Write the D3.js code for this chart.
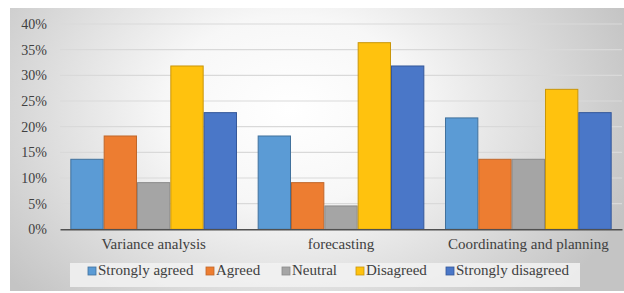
<!DOCTYPE html>
<html><head><meta charset="utf-8">
<script src="https://cdn.jsdelivr.net/npm/d3@7"></script>
<style>html,body{margin:0;padding:0;background:#fff;}svg{display:block;}</style>
</head><body>
<svg id="c" width="624" height="293"></svg>
<script>
const categories = ["Variance analysis", "forecasting", "Coordinating and planning"];
const seriesNames = ["Strongly agreed", "Agreed", "Neutral", "Disagreed", "Strongly disagreed"];
const stronglyAgreed = [0.1364, 0.1818, 0.217];
const agreed = [0.1818, 0.0909, 0.1364];
const neutral = [0.0909, 0.0455, 0.1364];
const disagreed = [0.3182, 0.3636, 0.2727];
const stronglyDisagreed = [0.2273, 0.3182, 0.2273];
const yTicks = [0, 0.05, 0.10, 0.15, 0.20, 0.25, 0.30, 0.35, 0.40];

(function(){
const series = [stronglyAgreed, agreed, neutral, disagreed, stronglyDisagreed];
const fills = ["#5B9BD5", "#ED7D31", "#A5A5A5", "#FFC20E", "#4A77C8"];
const strokes = ["#41719C", "#C0672A", "#8A8A8A", "#C9960A", "#35589A"];
const ff = "\"Liberation Serif\"";

const svg = d3.select("#c");
const defs = svg.append("defs");
const rg = defs.append("radialGradient").attr("id", "bg")
  .attr("gradientUnits", "userSpaceOnUse")
  .attr("cx", 290).attr("cy", 110).attr("r", 360)
  .attr("gradientTransform", "translate(290,110) scale(1,0.75) translate(-290,-110)");
rg.append("stop").attr("offset", "0").attr("stop-color", "#ffffff");
rg.append("stop").attr("offset", "0.35").attr("stop-color", "#f7f7f7");
rg.append("stop").attr("offset", "1").attr("stop-color", "#c4c4c4");

svg.append("rect").attr("x", 10).attr("y", 8).attr("width", 614).attr("height", 283).attr("fill", "url(#bg)");

const pl = 60, pr = 622, pt = 24, pb = 229.3;
const x0 = d3.scaleBand().domain(categories).range([pl, pr]).paddingInner(0).paddingOuter(0);
const x1 = d3.scaleBand().domain(d3.range(seriesNames.length)).range([0, x0.bandwidth()]).paddingInner(0).paddingOuter(0.31);
const y = d3.scaleLinear().domain([0, 0.40]).range([pb, pt]);

svg.append("g").selectAll("line").data(yTicks.filter(d => d > 0)).join("line")
  .attr("x1", pl).attr("x2", pr)
  .attr("y1", d => y(d)).attr("y2", d => y(d))
  .attr("stroke", "#d9d9d9").attr("stroke-width", 1.2);

const yAxis = d3.axisLeft(y).tickValues(yTicks).tickFormat(d3.format(".0%")).tickSize(0).tickPadding(0);
const yg = svg.append("g").attr("transform", `translate(47,0)`).call(yAxis);
yg.attr("font-family", ff).attr("font-size", 14);
yg.select(".domain").remove();
yg.selectAll("text").style("font-family", ff).style("font-size", "14px").attr("fill", "#404040");

const groups = svg.append("g").selectAll("g").data(categories).join("g")
  .attr("transform", d => `translate(${x0(d)},0)`);
groups.selectAll("rect").data((d, i) => series.map((s, k) => ({k, v: s[i]}))).join("rect")
  .attr("x", d => x1(d.k) + 0.5)
  .attr("width", x1.bandwidth() - 1)
  .attr("y", d => y(d.v))
  .attr("height", d => pb - y(d.v))
  .attr("fill", d => fills[d.k])
  .attr("stroke", d => strokes[d.k])
  .attr("stroke-width", 1);

const xAxis = d3.axisBottom(x0).tickSize(0).tickPadding(9);
const xg = svg.append("g").attr("transform", `translate(0,${pb})`).call(xAxis);
xg.attr("font-family", ff).attr("font-size", 15);
xg.select(".domain").attr("stroke", "#505050").attr("stroke-width", 1.6);
xg.selectAll("text").style("font-family", ff).style("font-size", "15px").attr("fill", "#404040");

svg.append("rect").attr("x", 70).attr("y", 263).attr("width", 510).attr("height", 24).attr("fill", "#f2f2f2").attr("opacity", 0.85);
const legX = [88, 206, 282, 356, 446];
const lg = svg.append("g").selectAll("g").data(seriesNames).join("g")
  .attr("transform", (d, i) => `translate(${legX[i]},275)`);
lg.append("rect").attr("x", 0).attr("y", -8).attr("width", 8).attr("height", 8)
  .attr("fill", (d, i) => fills[i]).attr("stroke", (d, i) => strokes[i]).attr("stroke-width", 0.8);
lg.append("text").attr("x", 10).attr("y", 0).text(d => d)
  .style("font-family", ff).style("font-size", "15px").attr("fill", "#404040");
})();
</script>
</body></html>
